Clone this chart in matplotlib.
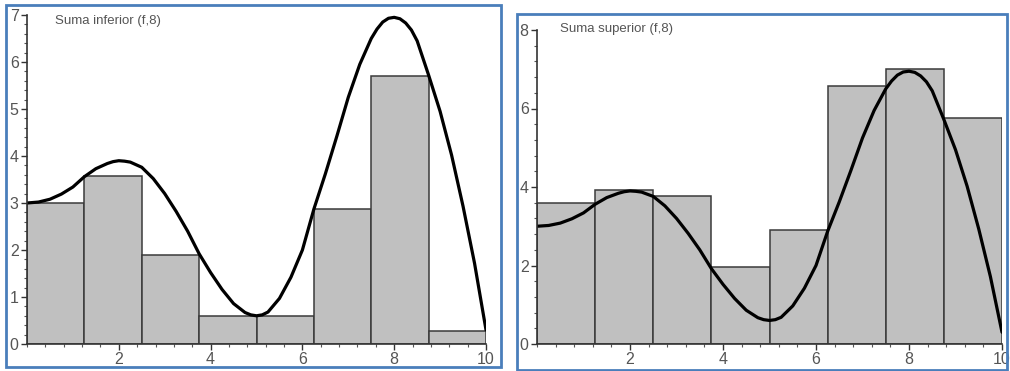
import numpy as np
import matplotlib.pyplot as plt
from matplotlib.patches import Rectangle
from matplotlib.ticker import MultipleLocator

# partition of [0, 10] into 8 pieces
edges = [0, 1.25, 2.5, 3.75, 5, 6.25, 7.5, 8.75, 10]
lower_sum = [3.0, 3.57, 1.9, 0.6, 0.6, 2.87, 5.7, 0.27]
upper_sum = [3.58, 3.93, 3.77, 1.96, 2.9, 6.58, 7.0, 5.77]

# f (denser around the turning points)
curve_x = [0, 0.25, 0.5, 0.75, 1, 1.25, 1.5, 1.75, 1.875, 2, 2.125, 2.25, 2.5,
           2.75, 3, 3.25, 3.5, 3.75, 4, 4.25, 4.5, 4.75, 4.875, 5, 5.125, 5.25,
           5.5, 5.75, 6, 6.25, 6.5, 6.75, 7, 7.25, 7.5, 7.625, 7.75, 7.875, 8,
           8.125, 8.25, 8.375, 8.5, 8.75, 9, 9.25, 9.5, 9.75, 10]
curve_y = [3.0, 3.02, 3.08, 3.19, 3.34, 3.56, 3.73, 3.84, 3.88, 3.9, 3.89,
           3.87, 3.76, 3.52, 3.2, 2.82, 2.4, 1.92, 1.52, 1.16, 0.86, 0.67,
           0.62, 0.6, 0.62, 0.68, 0.97, 1.42, 2.0, 2.87, 3.62, 4.42, 5.25,
           5.95, 6.5, 6.7, 6.85, 6.93, 6.95, 6.92, 6.83, 6.68, 6.45, 5.72,
           4.95, 4.02, 2.93, 1.72, 0.3]

W, H = 1010, 371
fig = plt.figure(figsize=(W / 100, H / 100), dpi=100)
plt.rcParams['font.family'] = ['Liberation Sans', 'DejaVu Sans']

blue = '#4a7ebb'
fig.patches.append(Rectangle((6 / W, 1 - 367 / H), 495 / W, 362 / H, transform=fig.transFigure,
                             fill=False, edgecolor=blue, lw=2))
fig.patches.append(Rectangle((517 / W, 1 - 370 / H), 490 / W, 356 / H, transform=fig.transFigure,
                             fill=False, edgecolor=blue, lw=2))


def panel(rect, heights, ytop, ymajor, yminor, title, tpos):
    ax = fig.add_axes(rect)
    for i, h in enumerate(heights):
        ax.bar(edges[i], h, width=edges[i + 1] - edges[i], align='edge',
               color='#c0c0c0', edgecolor='#3a3a3a', linewidth=1.1, zorder=2)
    ax.plot(curve_x, curve_y, color='black', lw=2.3, zorder=3,
            solid_capstyle='round', solid_joinstyle='round')
    ax.set_xlim(0, 10)
    ax.set_ylim(0, ytop)
    for s in ['top', 'right']:
        ax.spines[s].set_visible(False)
    for s in ['left', 'bottom']:
        ax.spines[s].set_color('#333333')
        ax.spines[s].set_linewidth(1.2)
        ax.spines[s].set_zorder(4)
    ax.xaxis.set_minor_locator(MultipleLocator(0.4))
    ax.yaxis.set_major_locator(MultipleLocator(ymajor))
    ax.yaxis.set_minor_locator(MultipleLocator(yminor))
    ax.set_xticks([2, 4, 6, 8, 10])
    ax.tick_params(which='major', length=4, width=1, color='#333333',
                   labelsize=11.5, labelcolor='#555555', pad=2)
    ax.tick_params(which='minor', length=2, width=0.8, color='#555555')
    ax.patch.set_alpha(0)
    fig.text(tpos[0] / W, 1 - tpos[1] / H, title, fontsize=9.5, color='#555555', va='baseline')
    return ax


panel([27 / W, (H - 344) / H, 459 / W, 329 / H], lower_sum, 7, 1, 0.2,
      'Suma inferior (f,8)', (55, 24))
panel([537 / W, (H - 344) / H, 465 / W, 314 / H], upper_sum, 8, 2, 0.4,
      'Suma superior (f,8)', (560, 32))

fig.savefig('out.png', dpi=100)
